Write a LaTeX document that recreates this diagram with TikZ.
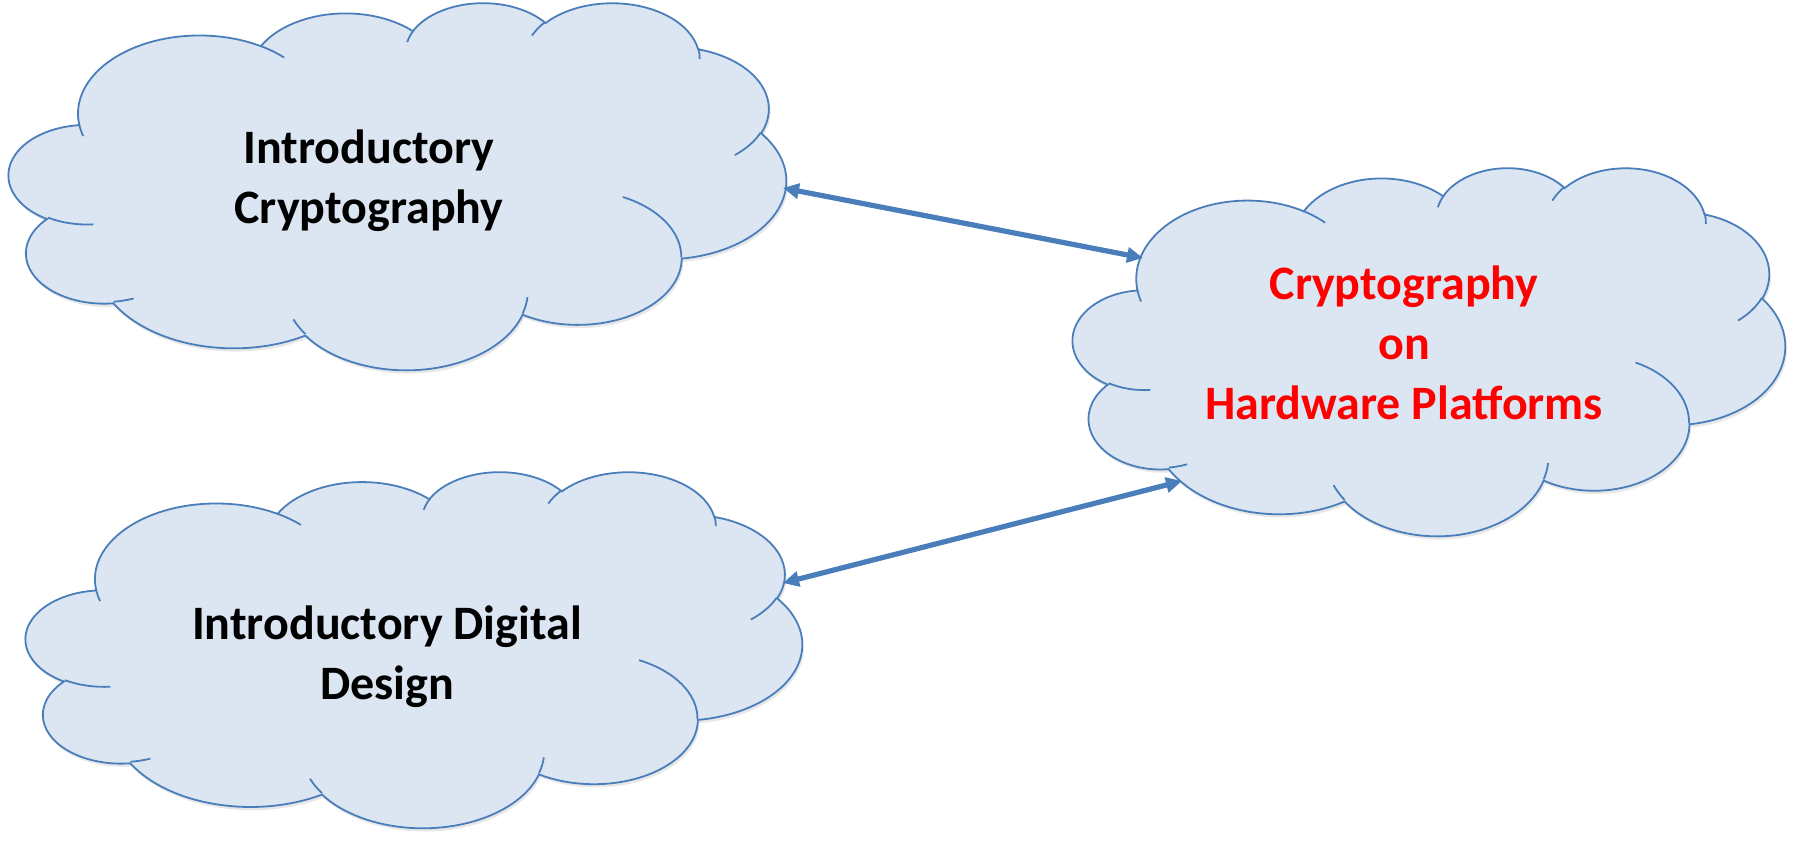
\documentclass[tikz,border=0pt]{standalone}
\usepackage{fontspec}
\setmainfont{Carlito}
\usetikzlibrary{arrows.meta}
\definecolor{cloudfill}{HTML}{DCE6F2}
\definecolor{cloudline}{HTML}{4A7EBB}
\definecolor{arrowblue}{HTML}{4A7EBB}
\definecolor{shadowgray}{HTML}{BBBBBB}

% OOXML-style cloud drawn with the pgf basic layer
% frame: \cX,\cY = top-left (pt), \cW,\cH = size (pt)
\newcommand\ooMove[2]{%
  \pgfmathsetmacro\ooX{\cX+#1/432*\cW}%
  \pgfmathsetmacro\ooY{\cY-#2/432*\cH}%
  \pgfpathmoveto{\pgfpoint{\ooX pt}{\ooY pt}}}
\newcommand\ooArc[4]{%
  \pgfmathsetmacro\tA{atan2(#1*sin(#3),#2*cos(#3))}%
  \pgfmathsetmacro\tB{atan2(#1*sin(#3+#4),#2*cos(#3+#4))}%
  \pgfmathsetmacro\tB{(\tA)+mod((\tB)-(\tA)+720,360)}%
  \pgfmathsetmacro\sA{-1*(\tA)}%
  \pgfmathsetmacro\sB{-1*(\tB)}%
  \pgfmathsetmacro\rA{#1/432*\cW/100}%
  \pgfmathsetmacro\rB{#2/432*\cH/100}%
  \pgfpatharc{\sA}{\sB}{\rA pt and \rB pt}}
\newcommand\ooOutline{%
  \ooMove{39.00}{143.70}%
  \ooArc{6753}{9190}{-190.48748}{123.78053}%
  \ooArc{5333}{7267}{-144.10238}{89.94523}%
  \ooArc{4365}{5945}{-145.80792}{99.72302}%
  \ooArc{4857}{6595}{-130.98607}{117.24173}%
  \ooArc{5333}{7273}{-78.70888}{109.02692}%
  \ooArc{6775}{9220}{-46.26725}{130.26900}%
  \ooArc{5785}{7867}{0.62502}{114.03333}%
  \ooArc{6752}{9215}{22.45160}{115.17255}%
  \ooArc{7720}{10543}{66.24263}{75.71102}%
  \ooArc{4360}{5918}{-274.94208}{146.73557}%
  \ooArc{4345}{5945}{-246.82850}{152.51885}%
  \pgfpathclose}
\newcommand\ooCloud[4]{% left top width height, in px
  \pgfmathsetmacro\cX{#1*0.5}\pgfmathsetmacro\cY{-#2*0.5}%
  \pgfmathsetmacro\cW{#3*0.5}\pgfmathsetmacro\cH{#4*0.5}%
  \begin{pgfscope}% soft shadow
    \pgftransformshift{\pgfpoint{0.8pt}{-1.6pt}}%
    \pgfsetfillcolor{shadowgray}\pgfsetfillopacity{0.35}%
    \ooOutline
    \pgfusepath{fill}%
  \end{pgfscope}
  \begin{pgfscope}
    \pgfsetlinewidth{0.9pt}%
    \pgfsetfillcolor{cloudfill}\pgfsetstrokecolor{cloudline}%
    \ooOutline
    \pgfusepath{fill,stroke}%
    \ooMove{46.93}{261.77}\ooArc{4345}{5945}{86.742}{26.4295}%
    \ooMove{69.28}{348.99}\ooArc{4360}{5918}{73.61047}{11.44747}%
    \ooMove{164.78}{390.90}\ooArc{6752}{9215}{137.62415}{14.0811}%
    \ooMove{288.27}{347.51}\ooArc{6752}{9215}{6.45327}{15.99835}%
    \ooMove{341.29}{229.54}\ooArc{5785}{7867}{-70.29235}{70.91737}%
    \ooMove{417.98}{153.54}\ooArc{5333}{7273}{30.31803}{27.7515}%
    \ooMove{383.24}{54.26}\ooArc{4857}{6595}{-13.74433}{14.8589}%
    \ooMove{290.78}{39.52}\ooArc{4857}{6595}{-149.18145}{18.19537}%
    \ooMove{221.41}{47.20}\ooArc{4365}{5945}{-163.49427}{17.68635}%
    \ooMove{140.00}{51.92}\ooArc{6753}{9190}{-66.70695}{12.31935}%
    \ooMove{41.27}{157.89}\ooArc{6753}{9190}{157.65435}{11.85817}%
    \pgfusepath{stroke}%
  \end{pgfscope}}

\tikzset{
  lbl/.style={font=\fontsize{24}{30}\selectfont\bfseries, align=center, inner sep=0pt},
  conn/.style={draw=arrowblue, line width=2.6pt,
    {Triangle[length=8pt,width=7.5pt]}-{Triangle[length=8pt,width=7.5pt]}}
}

\begin{document}
\begin{tikzpicture}[x=0.5pt,y=-0.5pt]
\useasboundingbox[fill=white] (0,0) rectangle (1797,850);

% clouds
\ooCloud{9}{2}{777}{367}
\ooCloud{1073}{167}{712}{368}
\ooCloud{26}{471}{776}{356}

% labels
\node[lbl] (introcrypto) at (369,181) {Introductory\\Cryptography};
\node[lbl, text=red] (hwcrypto) at (1404,343) {Cryptography\\on\\Hardware Platforms};
\node[lbl] (introdigital) at (387,657) {Introductory Digital\\Design};

% connector end points on the cloud outlines
\coordinate (icE) at (783,188);
\coordinate (hwW) at (1143,258);
\coordinate (idE) at (783,583);
\coordinate (hwSW) at (1182,481);

\draw[conn] (icE) -- (hwW);
\draw[conn] (idE) -- (hwSW);
\end{tikzpicture}
\end{document}
